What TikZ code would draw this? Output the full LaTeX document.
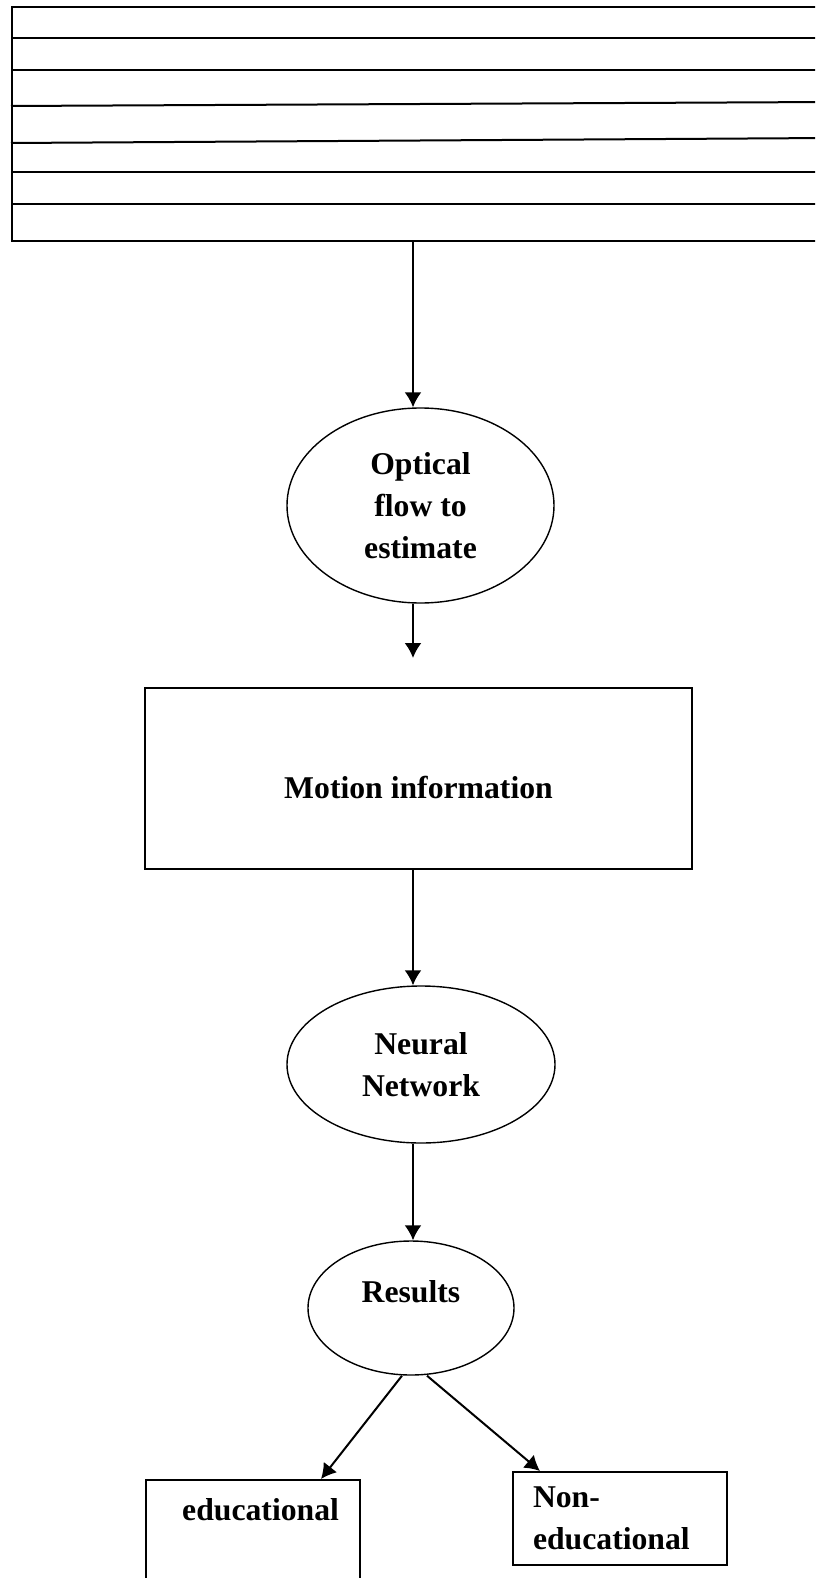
\documentclass[tikz,border=0pt]{standalone}
\usepackage{fontspec}
\setmainfont{Liberation Serif}
\usetikzlibrary{shapes.geometric,arrows.meta,positioning}
\begin{document}
\begin{tikzpicture}[
    x=1pt,y=-1pt,
    every node/.style={font=\bfseries\fontsize{31.7}{42}\selectfont},
    oval/.style={ellipse,draw,line width=1.4pt,inner sep=0pt,align=center},
    box/.style={rectangle,draw,line width=2pt,inner sep=0pt},
    flow/.style={line width=2pt,-{Latex[length=15pt,width=17pt]}}]
    \useasboundingbox (0,0) rectangle (815,1578);
    \clip (0,0) rectangle (815,1578);
    % striped frame stack at the top
    \node[box,anchor=north west,minimum width=819pt,minimum height=234pt]
        (frames) at (11,6) {};
    \foreach \yy in {38,70.5,172.5,204}
        \draw[line width=2pt] (11,\yy) -- (830,\yy);
    \draw[line width=2pt] (11,106) -- (830,102);
    \draw[line width=2pt] (11,143) -- (830,138);
    \coordinate (spine) at (413,0);
    \node[oval,minimum width=267pt,minimum height=195pt]
        (optic) at (420.5,505.5) {Optical\\flow to\\estimate};
    \coordinate (gap) at (413,658);
    \node[box,minimum width=547pt,minimum height=181pt,text height=39pt,text depth=0pt]
        (motion) at (418.5,778.5) {Motion information};
    \node[oval,minimum width=268pt,minimum height=157pt]
        (neural) at (421,1064.5) {Neural\\Network};
    \node[oval,minimum width=206pt,minimum height=134pt,text depth=34pt]
        (res) at (411,1308) {Results};
    \node[box,anchor=north west,minimum width=214pt,minimum height=140pt]
        (edu) at (145,1479) {};
    \node[inner sep=0pt,below right=19pt and 37pt of edu.north west]
        (edutxt) {educational};
    \node[box,minimum height=93pt,align=left,text width=174pt,inner xsep=20pt]
        (nonedu) at (620,1518.5) {Non-\\educational};
    \draw[flow] (frames.south -| spine) -- (optic.north -| spine);
    \draw[flow] (optic.south -| spine) -- (gap);
    \draw[flow] (motion.south -| spine) -- (neural.north -| spine);
    \draw[flow] (neural.south -| spine) -- (res.north -| spine);
    \draw[flow] ([xshift=-9pt]res.south) -- ([xshift=68pt]edu.north);
    \draw[flow] ([xshift=16pt]res.south) -- ([xshift=-80pt]nonedu.north);
\end{tikzpicture}
\end{document}
